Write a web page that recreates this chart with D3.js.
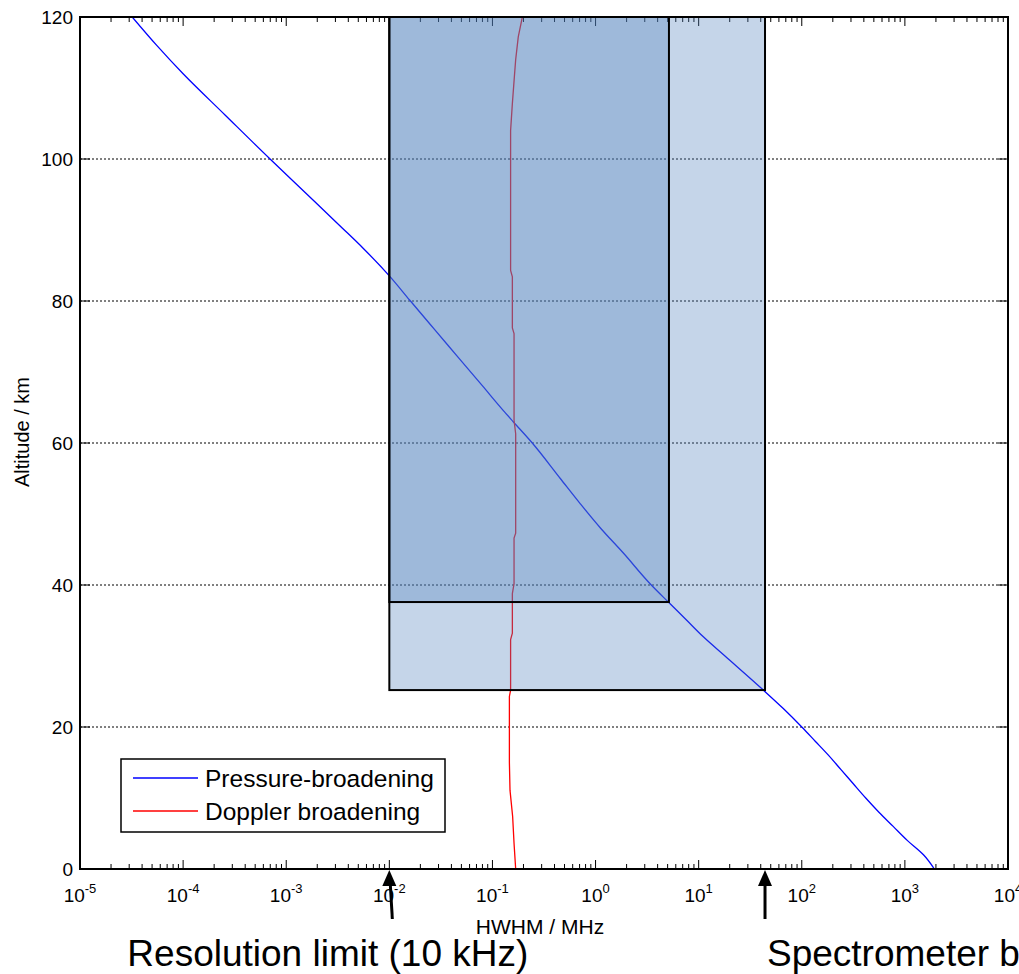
<!DOCTYPE html>
<html>
<head>
<meta charset="utf-8">
<script src="https://cdn.jsdelivr.net/npm/d3@7"></script>
<style>
  body { margin: 0; background: #fff; overflow: hidden; }
  svg { display: block; font-family: "Liberation Sans", Arial, sans-serif; }
</style>
</head>
<body>
<div id="chart"></div>
<script>
// Pressure-broadening HWHM (MHz) vs altitude (km)
const pressureAlt = [0, 2, 4, 6, 8, 10, 12, 14, 16, 18, 20, 22.6, 25.2, 30, 32.7, 35, 37.6, 40, 44.5, 48, 51.5, 55, 60.1, 63, 64.6, 68, 72, 76, 80.1, 83.4, 87.4, 90.5, 94.2, 100, 106.2, 112, 116, 120];
const pressureHWHM = [1932, 1514, 1060, 770, 560, 417, 316, 240, 182, 135, 100, 66.2, 42.4, 18.0, 11.1, 7.7, 5.08, 3.47, 1.86, 1.12, 0.706, 0.455, 0.240, 0.159, 0.127, 0.0805, 0.047, 0.0274, 0.0158, 0.0102, 0.0056, 0.00337, 0.00183, 0.000697, 0.000255, 0.0001, 0.0000555, 0.0000321];

// Doppler broadening HWHM (MHz) vs altitude (km)
const dopplerAlt = [0, 3.6, 7.4, 11.1, 15, 24.3, 25.2, 32.3, 33.2, 38.8, 40.2, 46.6, 47.3, 61.3, 63.2, 75.4, 76.2, 83.4, 84.3, 104, 107.8, 111.5, 114, 117.2, 120];
const dopplerHWHM = [0.168, 0.162, 0.157, 0.148, 0.146, 0.146, 0.150, 0.150, 0.156, 0.156, 0.162, 0.162, 0.168, 0.168, 0.162, 0.162, 0.156, 0.156, 0.150, 0.150, 0.156, 0.163, 0.168, 0.178, 0.195];

// Shaded regions: HWHM range and lowest altitude
const boxLow = [0.01, 0.01];
const boxHigh = [44, 5.15];
const boxFloor = [25.2, 37.6];

const seriesNames = ["Pressure-broadening", "Doppler broadening"];
const seriesColors = ["#0000ff", "#ff0000"];
const yTicks = [0, 20, 40, 60, 80, 100, 120];
const gridValues = [20, 40, 60, 80, 100];
const xExponents = [-5, -4, -3, -2, -1, 0, 1, 2, 3, 4];
const annotationText = ["Resolution limit (10 kHz)", "Spectrometer bandwidth"];
const annotationValue = [0.01, 44];

const W = 1019, H = 974;
const MARGIN = { top: 17, right: 11, bottom: 105, left: 80 };

const svg = d3.select("#chart").append("svg")
  .attr("width", W)
  .attr("height", H);

const x = d3.scaleLog()
  .domain([1e-5, 1e4])
  .range([MARGIN.left, W - MARGIN.right]);

const y = d3.scaleLinear()
  .domain([0, 120])
  .range([H - MARGIN.bottom, MARGIN.top]);

const x0 = x.range()[0], x1 = x.range()[1];
const yB = y(0), yT = y(120);

svg.append("defs").append("clipPath").attr("id", "plot")
  .append("rect")
  .attr("x", x0).attr("y", yT)
  .attr("width", x1 - x0).attr("height", yB - yT);

// grid (dotted, horizontal only)
svg.append("g").selectAll("line")
  .data(gridValues)
  .join("line")
  .attr("x1", x0).attr("x2", x1)
  .attr("y1", d => y(d)).attr("y2", d => y(d))
  .attr("stroke", "#000")
  .attr("stroke-width", 1)
  .attr("stroke-dasharray", "2,2");

// tick marks (inward, on all four sides)
const minorTicks = [];
xExponents.slice(0, -1).forEach(e => {
  for (let k = 2; k <= 9; k++) minorTicks.push(k * Math.pow(10, e));
});
const ticks = svg.append("g").attr("stroke", "#000").attr("stroke-width", 1);
xExponents.forEach(e => {
  const px = x(Math.pow(10, e));
  ticks.append("line").attr("x1", px).attr("x2", px).attr("y1", yB).attr("y2", yB - 9);
  ticks.append("line").attr("x1", px).attr("x2", px).attr("y1", yT).attr("y2", yT + 9);
});
minorTicks.forEach(v => {
  const px = x(v);
  ticks.append("line").attr("x1", px).attr("x2", px).attr("y1", yB).attr("y2", yB - 5);
  ticks.append("line").attr("x1", px).attr("x2", px).attr("y1", yT).attr("y2", yT + 5);
});
yTicks.forEach(v => {
  ticks.append("line").attr("x1", x0).attr("x2", x0 + 10).attr("y1", y(v)).attr("y2", y(v));
  ticks.append("line").attr("x1", x1).attr("x2", x1 - 10).attr("y1", y(v)).attr("y2", y(v));
});

// profiles
const plot = svg.append("g").attr("clip-path", "url(#plot)");
plot.append("path")
  .datum(d3.zip(pressureAlt, pressureHWHM))
  .attr("d", d3.line().x(d => x(d[1])).y(d => y(d[0])).curve(d3.curveMonotoneY))
  .attr("fill", "none")
  .attr("stroke", seriesColors[0])
  .attr("stroke-width", 1.3);
plot.append("path")
  .datum(d3.zip(dopplerAlt, dopplerHWHM))
  .attr("d", d3.line().x(d => x(d[1])).y(d => y(d[0])))
  .attr("fill", "none")
  .attr("stroke", seriesColors[1])
  .attr("stroke-width", 1.3);

// translucent boxes drawn over the lines
const boxData = d3.zip(boxLow, boxHigh, boxFloor);
svg.append("g").selectAll("rect")
  .data(boxData)
  .join("rect")
  .attr("x", d => x(d[0]))
  .attr("y", yT)
  .attr("width", d => x(d[1]) - x(d[0]))
  .attr("height", d => y(d[2]) - yT)
  .attr("fill", "#4f81bd")
  .attr("fill-opacity", 0.33)
  .attr("stroke", "#000")
  .attr("stroke-width", 2);

// axes frame
svg.append("rect")
  .attr("x", x0).attr("y", yT)
  .attr("width", x1 - x0).attr("height", yB - yT)
  .attr("fill", "none")
  .attr("stroke", "#000")
  .attr("stroke-width", 2);

// x tick labels 10^n
const xl = svg.append("g").attr("font-size", 19).attr("fill", "#000");
xExponents.forEach(e => {
  const t = xl.append("text")
    .attr("x", x(Math.pow(10, e)))
    .attr("y", yB + 33)
    .attr("text-anchor", "middle");
  t.append("tspan").text("10");
  t.append("tspan").attr("font-size", 13).attr("dy", -9).text(e);
});

// y tick labels
svg.append("g").selectAll("text")
  .data(yTicks)
  .join("text")
  .attr("x", x0 - 7)
  .attr("y", d => y(d))
  .attr("dy", "0.37em")
  .attr("text-anchor", "end")
  .attr("font-size", 19)
  .text(d => d);

// axis titles
svg.append("text")
  .attr("x", 540)
  .attr("y", 934)
  .attr("text-anchor", "middle")
  .attr("font-size", 21)
  .text("HWHM / MHz");

svg.append("text")
  .attr("transform", "translate(29,432) rotate(-90)")
  .attr("text-anchor", "middle")
  .attr("font-size", 20)
  .text("Altitude / km");

// legend
const legend = svg.append("g").attr("transform", "translate(121,759)");
legend.append("rect")
  .attr("width", 324).attr("height", 73)
  .attr("fill", "#fff")
  .attr("stroke", "#000")
  .attr("stroke-width", 1.5);
seriesNames.forEach((name, i) => {
  const cy = 19 + i * 33;
  legend.append("line")
    .attr("x1", 12).attr("x2", 77)
    .attr("y1", cy).attr("y2", cy)
    .attr("stroke", seriesColors[i])
    .attr("stroke-width", 1.3);
  legend.append("text")
    .attr("x", 84).attr("y", cy + 9)
    .attr("font-size", 24.5)
    .text(name);
});

// annotation arrows and labels
const arrows = svg.append("g");
annotationValue.forEach((v, i) => {
  const tip = x(v);
  const tail = i === 0 ? tip + 3 : tip;
  arrows.append("line")
    .attr("x1", tail).attr("y1", yB + 50)
    .attr("x2", tip + (tail - tip) * 0.3).attr("y2", yB + 14)
    .attr("stroke", "#000")
    .attr("stroke-width", 3);
  arrows.append("path")
    .attr("d", `M${tip},${yB + 1}L${tip - 7},${yB + 17}L${tip + 7},${yB + 17}Z`)
    .attr("fill", "#000");
});
svg.append("text")
  .attr("x", x(annotationValue[0]) - 262)
  .attr("y", 966)
  .attr("font-size", 37)
  .text(annotationText[0]);
svg.append("text")
  .attr("x", x(annotationValue[1]) + 2)
  .attr("y", 966)
  .attr("font-size", 37)
  .text(annotationText[1]);
</script>
</body>
</html>
